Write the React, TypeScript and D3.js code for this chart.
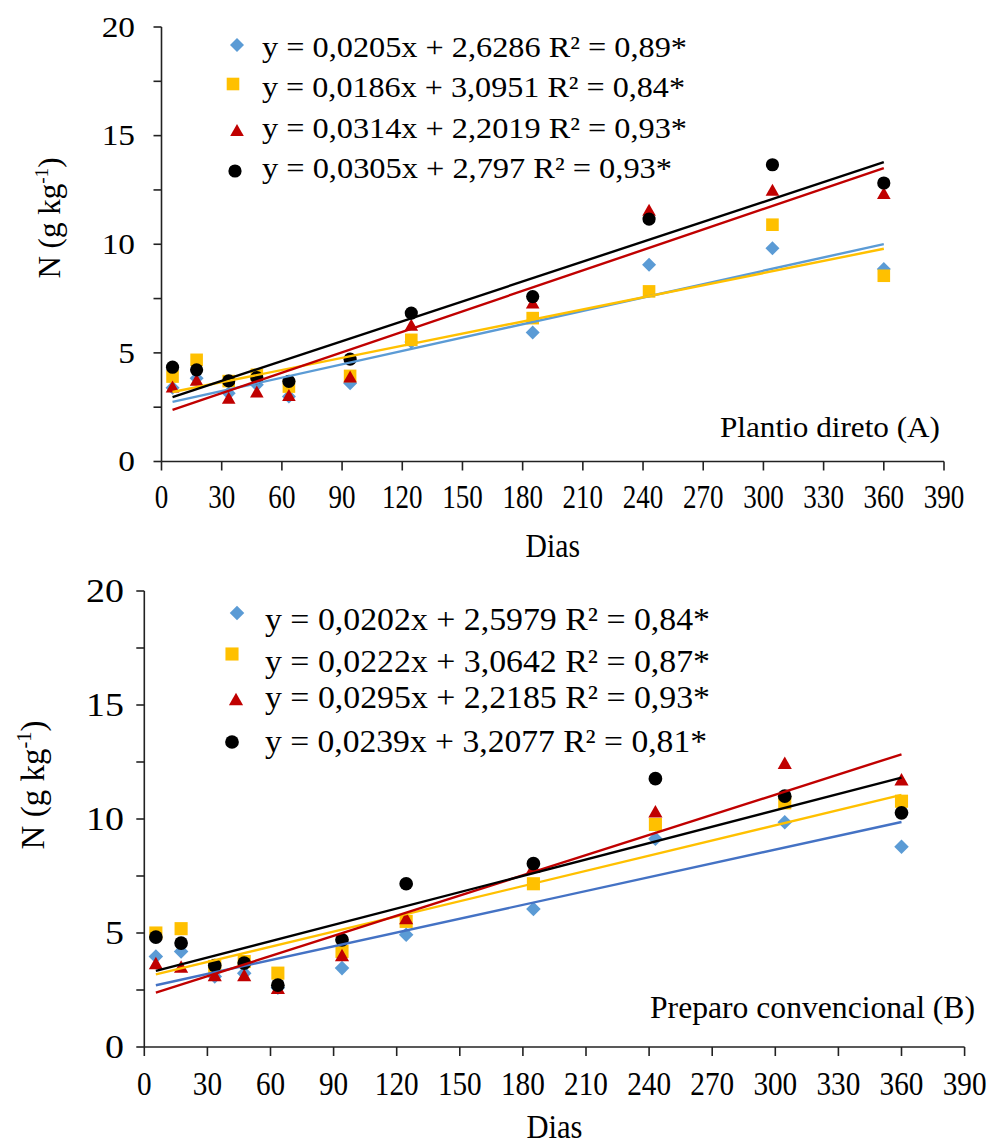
import React from "react";
import * as d3 from "d3";

// ---------- data ----------
const days = [5.5, 17.5, 33.5, 47.5, 63.5, 94, 124.5, 185, 243, 304.5, 360];
const xTicks = d3.range(0, 391, 30);
const yTicksMinor = d3.range(0, 20.01, 2.5);
const yTickLabels = [0, 5, 10, 15, 20];

const seriesKeys = ["diamond", "square", "triangle", "circle"];
const markerColors = ["#5B9BD5", "#FFC000", "#C00000", "#000000"];
const lineColorsA = ["#5B9BD5", "#FFC000", "#C00000", "#000000"];
const lineColorsB = ["#4472C4", "#FFC000", "#C00000", "#000000"];

// Plantio direto (A)
const blueA = [3.4, 3.83, 3.14, 3.53, 2.99, 3.6, 5.5, 5.94, 9.06, 9.82, 8.86];
const yellowA = [3.91, 4.68, 3.7, 3.99, 3.45, 3.94, 5.6, 6.6, 7.83, 10.9, 8.55];
const redA = [3.45, 3.76, 2.94, 3.22, 3.06, 3.91, 6.29, 7.32, 11.59, 12.51, 12.36];
const blackA = [4.34, 4.22, 3.71, 3.86, 3.69, 4.71, 6.83, 7.59, 11.16, 13.66, 12.82];
const slopesA = [0.0205, 0.0186, 0.0314, 0.0305];
const interceptsA = [2.6286, 3.0951, 2.2019, 2.797];
const legendA = [
  "y = 0,0205x + 2,6286 R² = 0,89*",
  "y = 0,0186x + 3,0951 R² = 0,84*",
  "y = 0,0314x + 2,2019 R² = 0,93*",
  "y = 0,0305x + 2,797 R² = 0,93*",
];

// Preparo convencional (B)
const blueB = [3.97, 4.19, 3.09, 3.24, 2.6, 3.46, 4.92, 6.05, 9.13, 9.86, 8.78];
const yellowB = [5.0, 5.19, 3.53, 3.75, 3.24, 4.19, 5.51, 7.16, 9.76, 10.71, 10.78];
const redB = [3.68, 3.53, 3.16, 3.16, 2.6, 4.04, 5.66, 7.9, 10.34, 12.47, 11.74];
const blackB = [4.82, 4.56, 3.57, 3.68, 2.71, 4.7, 7.16, 8.04, 11.77, 11.0, 10.27];
const slopesB = [0.0202, 0.0222, 0.0295, 0.0239];
const interceptsB = [2.5979, 3.0642, 2.2185, 3.2077];
const legendB = [
  "y = 0,0202x + 2,5979 R² = 0,84*",
  "y = 0,0222x + 3,0642 R² = 0,87*",
  "y = 0,0295x + 2,2185 R² = 0,93*",
  "y = 0,0239x + 3,2077 R² = 0,81*",
];

const FONT = "'Liberation Serif', 'DejaVu Serif', serif";

function markerPath(kind: string, s: number) {
  if (kind === "diamond") {
    const h = 7 * s;
    return `M0,${-h}L${h},0L0,${h}L${-h},0Z`;
  }
  if (kind === "square") {
    const h = 6.3 * s;
    return `M${-h},${-h}H${h}V${h}H${-h}Z`;
  }
  if (kind === "triangle") {
    const w = 6.8 * s;
    const hh = 6 * s;
    return `M0,${-hh}L${w},${hh}L${-w},${hh}Z`;
  }
  const r = 6.6 * s;
  return `M${r},0A${r},${r} 0 1,1 ${-r},0A${r},${r} 0 1,1 ${r},0Z`;
}

type PanelProps = {
  series: number[][];
  slopes: number[];
  intercepts: number[];
  legend: string[];
  lineColors: string[];
  xRange: [number, number];
  yRange: [number, number];
  msize: number;
  yTickFont: number;
  yTickSx: number;
  yTickRight: number;
  xTickFont: number;
  xTickSx: number;
  xTickBase: number;
  diasBase: number;
  diasFont: number;
  diasSx: number;
  yLabel: { x: number; y: number; font: number; len: number };
  legendPos: { mx: number[]; my: number[]; tx: number; base: number[]; w: number[]; font: number };
  title: { text: string; x: number; y: number; w: number; font: number };
};

function Panel(p: PanelProps) {
  const x = d3.scaleLinear().domain([0, 390]).range(p.xRange);
  const y = d3.scaleLinear().domain([0, 20]).range(p.yRange);
  const trend = d3
    .line<[number, number]>()
    .x((d) => x(d[0]))
    .y((d) => y(d[1]));
  const d0 = days[0];
  const d1 = days[days.length - 1];
  const axisColor = "#222";
  return (
    <g fontFamily={FONT} fill="#000">
      {/* axes */}
      <line x1={x(0)} x2={x(0)} y1={y(0)} y2={y(20)} stroke={axisColor} strokeWidth={1.6} />
      <line x1={x(0)} x2={x(390)} y1={y(0)} y2={y(0)} stroke={axisColor} strokeWidth={1.6} />
      {yTicksMinor.map((t) => (
        <line key={"yt" + t} x1={x(0) - 8} x2={x(0)} y1={y(t)} y2={y(t)} stroke={axisColor} strokeWidth={1.6} />
      ))}
      {xTicks.map((t) => (
        <line key={"xt" + t} x1={x(t)} x2={x(t)} y1={y(0)} y2={y(0) + 9} stroke={axisColor} strokeWidth={1.6} />
      ))}
      {yTickLabels.map((t) => (
        <text
          key={"yl" + t}
          transform={`translate(${p.yTickRight},${y(t)}) scale(${p.yTickSx},1)`}
          textAnchor="end"
          dy="0.34em"
          fontSize={p.yTickFont}
        >
          {t}
        </text>
      ))}
      {xTicks.map((t) => (
        <text
          key={"xl" + t}
          transform={`translate(${x(t)},${p.xTickBase}) scale(${p.xTickSx},1)`}
          textAnchor="middle"
          fontSize={p.xTickFont}
        >
          {t}
        </text>
      ))}
      <text
        transform={`translate(${(x(0) + x(390)) / 2},${p.diasBase}) scale(${p.diasSx},1)`}
        textAnchor="middle"
        fontSize={p.diasFont}
      >
        Dias
      </text>
      <text
        transform={`translate(${p.yLabel.x},${p.yLabel.y}) rotate(-90)`}
        textAnchor="middle"
        fontSize={p.yLabel.font}
      >
        N (g kg
        <tspan dy={-p.yLabel.font * 0.4} fontSize={p.yLabel.font * 0.62}>
          -1
        </tspan>
        <tspan dy={p.yLabel.font * 0.4}>)</tspan>
      </text>
      {/* markers */}
      {p.series.map((vals, si) => (
        <g key={"s" + si} fill={markerColors[si]}>
          {vals.map((v, i) => (
            <path
              key={i}
              transform={`translate(${x(days[i])},${y(v)})`}
              d={markerPath(seriesKeys[si], p.msize)}
            />
          ))}
        </g>
      ))}
      {/* trendlines */}
      {p.slopes.map((m, si) => (
        <path
          key={"tl" + si}
          d={trend([d0, d1].map((dd) => [dd, m * dd + p.intercepts[si]] as [number, number])) as string}
          fill="none"
          stroke={p.lineColors[si]}
          strokeWidth={2.4}
        />
      ))}
      {/* legend */}
      {p.legend.map((txt, i) => (
        <g key={"lg" + i}>
          <path
            transform={`translate(${p.legendPos.mx[i]},${p.legendPos.my[i]})`}
            d={markerPath(seriesKeys[i], p.msize)}
            fill={markerColors[i]}
          />
          <text
            x={p.legendPos.tx}
            y={p.legendPos.base[i]}
            fontSize={p.legendPos.font}
            textLength={p.legendPos.w[i]}
            lengthAdjust="spacingAndGlyphs"
          >
            {txt}
          </text>
        </g>
      ))}
      <text
        x={p.title.x}
        y={p.title.y}
        fontSize={p.title.font}
        textLength={p.title.w}
        lengthAdjust="spacingAndGlyphs"
      >
        {p.title.text}
      </text>
    </g>
  );
}

export default function App() {
  return (
    <svg
      width={992}
      height={1144}
      style={{ position: "absolute", left: 0, top: 0, background: "#fff" }}
    >
      <Panel
        series={[blueA, yellowA, redA, blackA]}
        slopes={slopesA}
        intercepts={interceptsA}
        legend={legendA}
        lineColors={lineColorsA}
        xRange={[161.5, 944]}
        yRange={[461.5, 27]}
        msize={1}
        yTickFont={29}
        yTickSx={1.15}
        yTickRight={135}
        xTickFont={33}
        xTickSx={0.82}
        xTickBase={508}
        diasBase={557}
        diasFont={33}
        diasSx={0.9}
        yLabel={{ x: 60, y: 218, font: 31, len: 125 }}
        legendPos={{
          mx: [237, 233, 237, 235],
          my: [45, 84, 130, 171],
          tx: 262,
          base: [57, 97, 138, 178],
          w: [425, 423, 425, 410],
          font: 30,
        }}
        title={{ text: "Plantio direto (A)", x: 720, y: 437, w: 220, font: 30 }}
      />
      <Panel
        series={[blueB, yellowB, redB, blackB]}
        slopes={slopesB}
        intercepts={interceptsB}
        legend={legendB}
        lineColors={lineColorsB}
        xRange={[144.3, 964.6]}
        yRange={[1047, 591]}
        msize={1.04}
        yTickFont={33}
        yTickSx={1.15}
        yTickRight={124}
        xTickFont={34}
        xTickSx={0.86}
        xTickBase={1095}
        diasBase={1138}
        diasFont={34}
        diasSx={0.9}
        yLabel={{ x: 44, y: 785, font: 33, len: 135 }}
        legendPos={{
          mx: [237, 232, 236, 232],
          my: [613, 654, 699, 742],
          tx: 265,
          base: [630, 672, 708, 752],
          w: [445, 445, 445, 442],
          font: 32,
        }}
        title={{ text: "Preparo convencional (B)", x: 650, y: 1018, w: 325, font: 31 }}
      />
    </svg>
  );
}
